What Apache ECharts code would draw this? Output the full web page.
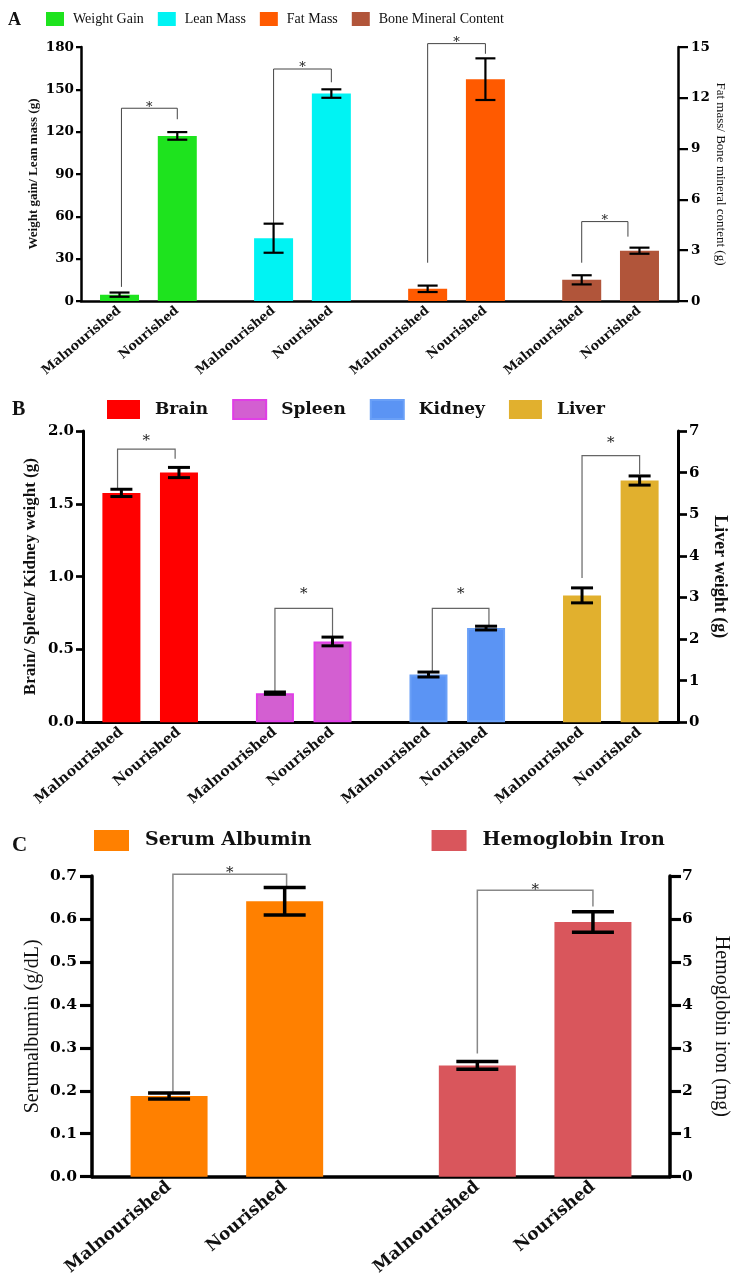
<!DOCTYPE html>
<html><head><meta charset="utf-8">
<script src="https://cdn.jsdelivr.net/npm/echarts@6/dist/echarts.min.js"></script>
<style>html,body{margin:0;padding:0;background:#fff}#c{width:739px;height:1283px}</style>
</head><body><div id="c"></div>
<script>
// ---------- DATA ----------
const conditions = ['Malnourished', 'Nourished'];

// Panel A
const groupsA = ['Weight Gain', 'Lean Mass', 'Fat Mass', 'Bone Mineral Content'];
const meanA = [[4.5, 117], [44.5, 147], [0.72, 13.1], [1.25, 2.97]];
const errA = [[1.5, 2.7], [10.3, 3.0], [0.19, 1.23], [0.27, 0.18]];
const sideA = [0, 0, 1, 1]; // 0 = left axis, 1 = right axis
const bracketA = [[10, 128.8, 136.6], [55, 155, 164.4], [2.26, 14.6, 15.2], [2.26, 3.8, 4.69]]; // [left end, right end, top]
const ticksA = { left: [0, 180, 30], right: [0, 15, 3] };

// Panel B
const groupsB = ['Brain', 'Spleen', 'Kidney', 'Liver'];
const meanB = [[1.575, 1.715], [0.2, 0.555], [0.328, 0.647], [3.05, 5.81]];
const errB = [[0.025, 0.035], [0.008, 0.03], [0.017, 0.013], [0.18, 0.11]];
const sideB = [0, 0, 0, 1];
const bracketB = [[1.60, 1.81, 1.875], [0.206, 0.587, 0.782], [0.347, 0.66, 0.782], [3.47, 5.96, 6.41]];
const ticksB = { left: [0, 2, 0.5], right: [0, 7, 1] };

// Panel C
const groupsC = ['Serum Albumin', 'Hemoglobin Iron'];
const meanC = [[0.188, 0.641], [2.59, 5.93]];
const errC = [[0.007, 0.032], [0.09, 0.24]];
const sideC = [0, 1];
const bracketC = [[0.198, 0.672, 0.704], [2.87, 6.29, 6.67]];
const ticksC = { left: [0, 0.7, 0.1], right: [0, 7, 1] };

// ---------- LAYOUT / STYLE ----------
const panels = [
  {
    letter: 'A', groups: groupsA, mean: meanA, err: errA, side: sideA, brackets: bracketA, ticks: ticksA,
    colors: ['#1ee31e', '#00f3f3', '#ff5a00', '#b1553a'], borders: [null, null, null, null],
    grid: { left: 81, top: 47, width: 597, height: 254 }, xMax: 31,
    axisW: 2.5, tickL: [5, 10], marginL: [7, 13], yFont: 13.5, xFont: 12.7, barW: 39, cap: 20, errW: 2.2,
    brColor: '#444', brW: 1, starFont: 13, starGap: [1, 1, 1, 1],
    legShift: [[0.1, 0], [0, 0], [0, 0], [0, -0.6]],
    leftDec: 0, rightDec: 0,
    nameL: 'Weight gain/ Lean mass (g)', nameR: 'Fat mass/ Bone mineral content (g)',
    nameLStyle: { fontFamily: 'Liberation Serif', fontWeight: 'bold', fontSize: 13 }, nameLGap: 41,
    nameRStyle: { fontFamily: 'Liberation Serif', fontWeight: 'normal', fontSize: 13 }, nameRGap: 36,
    legend: { left: 46, top: 12, itemWidth: 18, itemHeight: 14, itemGap: 14, font: { fontFamily: 'Liberation Serif', fontSize: 14, fontWeight: 'normal' }, pad: 4 },
    letterPos: [8, 11, 18]
  },
  {
    letter: 'B', groups: groupsB, mean: meanB, err: errB, side: sideB, brackets: bracketB, ticks: ticksB,
    colors: ['#ff0000', '#d35fd1', '#5b94f4', '#e1b02e'], borders: [null, '#e03ee6', '#6aa0f7', null],
    grid: { left: 83, top: 431, width: 595, height: 291.3 }, xMax: 31,
    axisW: 3, tickL: [7, 9], marginL: [9, 11], yFont: 15, xFont: 14.2, barW: 38, cap: 22, errW: 3,
    brColor: '#666', brW: 1.2, starFont: 15, starGap: [8, 14, 14, 12],
    legShift: [[-0.2, -0.2], [0, 0], [0.2, 0.15], [0, 0]],
    leftDec: 1, rightDec: 0,
    nameL: 'Brain/ Spleen/ Kidney weight (g)', nameR: 'Liver weight (g)',
    nameLStyle: { fontFamily: 'Liberation Serif', fontWeight: 'bold', fontSize: 17 }, nameLGap: 44,
    nameRStyle: { fontFamily: 'Liberation Serif', fontWeight: 'bold', fontSize: 18 }, nameRGap: 33,
    legend: { left: 107, top: 399, itemWidth: 33, itemHeight: 19, itemGap: 24, font: { fontFamily: 'DejaVu Serif', fontSize: 17, fontWeight: 'bold' }, pad: 10 },
    letterPos: [12, 400, 20]
  },
  {
    letter: 'C', groups: groupsC, mean: meanC, err: errC, side: sideC, brackets: bracketC, ticks: ticksC,
    colors: ['#ff8000', '#d9565c'], borders: [null, null],
    grid: { left: 92, top: 876, width: 578, height: 300.7 }, xMax: 15,
    axisW: 3.5, tickL: [12, 11], marginL: [15, 12], yFont: 15.5, xFont: 17, barW: 77, cap: 42, errW: 3.5,
    brColor: '#888', brW: 1.5, starFont: 15, starGap: [1, 0],
    legShift: [[0.1, 0.05], [0, 0]],
    leftDec: 1, rightDec: 0,
    nameL: 'Serumalbumin (g/dL)', nameR: 'Hemoglobin iron (mg)',
    nameLStyle: { fontFamily: 'Liberation Serif', fontWeight: 'normal', fontSize: 20 }, nameLGap: 49,
    nameRStyle: { fontFamily: 'Liberation Serif', fontWeight: 'normal', fontSize: 20 }, nameRGap: 41,
    legend: { left: 94, top: 830, itemWidth: 35, itemHeight: 21, itemGap: 120, font: { fontFamily: 'DejaVu Serif', fontSize: 19, fontWeight: 'bold' }, pad: 11 },
    letterPos: [12, 835, 21]
  }
];

// slot index on x axis for group g and condition c
const slotOf = (g, c) => 2 + g * 8 + c * 3;

const option = { animation: false, backgroundColor: '#fff', grid: [], xAxis: [], yAxis: [], legend: [], series: [], graphic: [] };

panels.forEach((p, k) => {
  option.grid.push(Object.assign({ containLabel: false }, p.grid));
  const labelMap = {};
  p.groups.forEach((g, gi) => conditions.forEach((c, ci) => { labelMap[slotOf(gi, ci)] = c; }));
  option.xAxis.push({
    type: 'value', gridIndex: k, min: 0, max: p.xMax, interval: 1,
    axisLine: { show: true, onZero: false, lineStyle: { color: '#000', width: p.axisW } },
    axisTick: { show: false }, splitLine: { show: false },
    axisLabel: {
      rotate: 40, margin: 8, color: '#111', fontFamily: 'DejaVu Serif', fontWeight: 'bold', fontSize: p.xFont,
      showMinLabel: true, showMaxLabel: true,
      formatter: v => labelMap[Math.round(v)] || ''
    }
  });
  const mkY = (pos, t, dec, name, nstyle, ngap, tl, mg) => ({
    type: 'value', gridIndex: k, position: pos, min: t[0], max: t[1], interval: t[2],
    axisLine: { show: true, onZero: false, lineStyle: { color: '#000', width: p.axisW } },
    axisTick: { show: true, inside: false, length: tl, lineStyle: { color: '#000', width: p.axisW * 0.9 } },
    splitLine: { show: false },
    axisLabel: { margin: mg, color: '#000', fontFamily: 'DejaVu Serif', fontWeight: 'bold', fontSize: p.yFont, formatter: v => Number(v).toFixed(dec) },
    name: name, nameLocation: 'middle', nameGap: ngap, nameRotate: pos === 'left' ? 90 : -90,
    nameMoveOverlap: false,
    nameTextStyle: Object.assign({ color: '#111' }, nstyle)
  });
  const yl = option.yAxis.length;
  option.yAxis.push(mkY('left', p.ticks.left, p.leftDec, p.nameL, p.nameLStyle, p.nameLGap, p.tickL[0], p.marginL[0]));
  option.yAxis.push(mkY('right', p.ticks.right, p.rightDec, p.nameR, p.nameRStyle, p.nameRGap, p.tickL[1], p.marginL[1]));

  option.legend.push({
    data: p.groups, left: p.legend.left, top: p.legend.top, padding: 0, orient: 'horizontal',
    itemWidth: p.legend.itemWidth, itemHeight: p.legend.itemHeight, itemGap: p.legend.itemGap, icon: 'rect',
    selectedMode: false,
    textStyle: Object.assign({ color: '#111', padding: [0, 0, 0, p.legend.pad] }, p.legend.font)
  });

  option.graphic.push({ type: 'text', left: p.letterPos[0], top: p.letterPos[1],
    style: { text: p.letter, font: 'bold ' + p.letterPos[2] + 'px "Liberation Serif"', fill: '#111' } });

  p.groups.forEach((g, gi) => {
    const yIdx = yl + p.side[gi];
    option.series.push({
      type: 'bar', name: g, xAxisIndex: k, yAxisIndex: yIdx, barWidth: p.barW, barGap: '-100%',
      itemStyle: { color: p.colors[gi], borderColor: p.borders[gi] || p.colors[gi], borderWidth: p.borders[gi] ? 2 : 0 },
      data: conditions.map((c, ci) => [slotOf(gi, ci), p.mean[gi][ci]])
    });
    // error bars
    option.series.push({
      type: 'custom', name: g + ' err', xAxisIndex: k, yAxisIndex: yIdx, z: 5,
      encode: { x: 0, y: 1 },
      data: conditions.map((c, ci) => [slotOf(gi, ci), p.mean[gi][ci], p.err[gi][ci]]),
      renderItem: (params, api) => {
        const x = api.value(0), m = api.value(1), e = api.value(2);
        const t = api.coord([x, m + e]), b = api.coord([x, m - e]);
        const hw = p.cap / 2, st = { stroke: '#000', lineWidth: p.errW };
        return { type: 'group', children: [
          { type: 'line', shape: { x1: t[0], y1: t[1], x2: b[0], y2: b[1] }, style: st },
          { type: 'line', shape: { x1: t[0] - hw, y1: t[1], x2: t[0] + hw, y2: t[1] }, style: st },
          { type: 'line', shape: { x1: b[0] - hw, y1: b[1], x2: b[0] + hw, y2: b[1] }, style: st }
        ] };
      }
    });
    // significance bracket
    const br = p.brackets[gi];
    option.series.push({
      type: 'custom', name: g + ' sig', xAxisIndex: k, yAxisIndex: yIdx, z: 4, clip: false,
      encode: { x: [0, 1], y: [2, 3, 4] },
      data: [[slotOf(gi, 0) + p.legShift[gi][0], slotOf(gi, 1) + p.legShift[gi][1], br[2], br[0], br[1]]],
      renderItem: (params, api) => {
        const xl = api.value(0), xr = api.value(1), top = api.value(2), le = api.value(3), re = api.value(4);
        const a = api.coord([xl, le]), b = api.coord([xl, top]), c = api.coord([xr, top]), d = api.coord([xr, re]);
        return { type: 'group', children: [
          { type: 'polyline', shape: { points: [a, b, c, d] }, style: { stroke: p.brColor, lineWidth: p.brW, fill: null } },
          { type: 'text', style: { text: '*', x: (b[0] + c[0]) / 2, y: b[1] - p.starGap[gi], align: 'center', verticalAlign: 'middle',
            font: p.starFont + 'px "DejaVu Serif"', fill: '#222' } }
        ] };
      }
    });
  });
});

const chart = echarts.init(document.getElementById('c'), null, { renderer: 'canvas' });
chart.setOption(option);
</script></body></html>
